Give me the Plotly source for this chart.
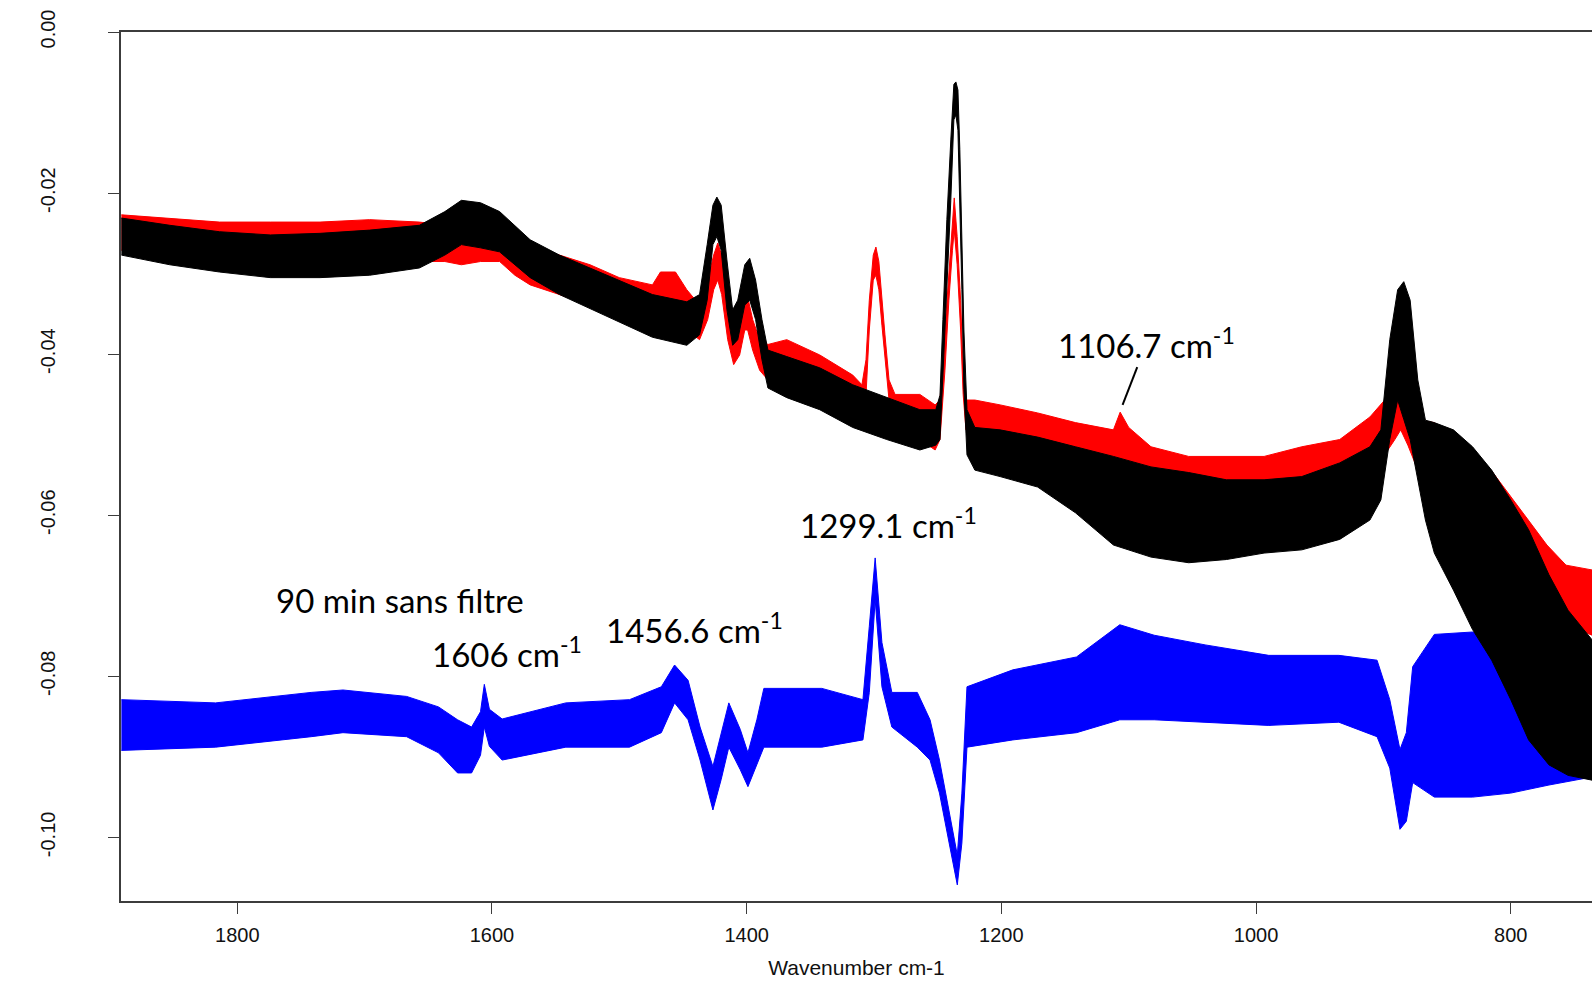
import plotly.graph_objects as go

# ---- spectra: wavenumber (cm-1) with upper / lower envelope of the noisy trace ----
# reference spectrum (red)
red_wn = [1891, 1853, 1814, 1774, 1735, 1696, 1657, 1637, 1624, 1609, 1594, 1582, 1570, 1547,
          1523, 1500, 1474, 1467.7, 1455.9, 1447, 1437, 1430.6, 1425.9, 1422.7, 1419.6, 1414.9,
          1410.2, 1405.5, 1401.5, 1399.2, 1395.3, 1389.8, 1383.3, 1368.5, 1342.6, 1316.7, 1309.5,
          1306.3, 1303.7, 1300.6, 1298.5, 1296.2, 1293.8, 1291.4, 1288.2, 1283.5, 1264, 1252,
          1248.2, 1244.3, 1241.2, 1238.4, 1237, 1234.7, 1232, 1230, 1227.8, 1220.8, 1201, 1171.5,
          1141.8, 1112, 1106.7, 1100, 1082.5, 1052.9, 1023.3, 993.7, 964.1, 934.3, 910.6, 899,
          891, 886.4, 880.8, 873, 860, 845, 815.5, 786, 771.6, 756.6, 736]
red_hi = [-0.0227, -0.0231, -0.0236, -0.0236, -0.0236, -0.0233, -0.0236, -0.0240, -0.0243, -0.0236,
          -0.0236, -0.0256, -0.0268, -0.0277, -0.0289, -0.0305, -0.0314, -0.0298, -0.0298, -0.0320,
          -0.0339, -0.0308, -0.0277, -0.0262, -0.0277, -0.0333, -0.0388, -0.0364, -0.0333, -0.0329,
          -0.0357, -0.0382, -0.0388, -0.0382, -0.0401, -0.0426, -0.0438, -0.0407, -0.0333, -0.0277,
          -0.0267, -0.0285, -0.0333, -0.0376, -0.0432, -0.0450, -0.0450, -0.0463, -0.0457, -0.0370,
          -0.0289, -0.0233, -0.0206, -0.0254, -0.0333, -0.0419, -0.0457, -0.0457, -0.0463, -0.0473,
          -0.0485, -0.0494, -0.0472, -0.0491, -0.0515, -0.0527, -0.0527, -0.0527, -0.0515, -0.0506,
          -0.0478, -0.0457, -0.0438, -0.0427, -0.0444, -0.0482, -0.0485, -0.0506, -0.0544, -0.0606,
          -0.0637, -0.0662, -0.0668]
red_lo = [-0.0271, -0.0277, -0.0285, -0.0289, -0.0289, -0.0285, -0.0285, -0.0285, -0.0289, -0.0285,
          -0.0285, -0.0302, -0.0314, -0.0326, -0.0339, -0.0355, -0.0370, -0.0345, -0.0351, -0.0370,
          -0.0382, -0.0357, -0.0320, -0.0308, -0.0326, -0.0382, -0.0413, -0.0401, -0.0370, -0.0370,
          -0.0395, -0.0420, -0.0432, -0.0438, -0.0457, -0.0482, -0.0488, -0.0451, -0.0370, -0.0308,
          -0.0302, -0.0320, -0.0364, -0.0407, -0.0457, -0.0494, -0.0506, -0.0519, -0.0506, -0.0420,
          -0.0333, -0.0271, -0.0246, -0.0289, -0.0370, -0.0450, -0.0494, -0.0506, -0.0525, -0.0537,
          -0.0556, -0.0575, -0.0575, -0.0581, -0.0593, -0.0606, -0.0606, -0.0600, -0.0593, -0.0581,
          -0.0550, -0.0525, -0.0506, -0.0494, -0.0513, -0.0544, -0.0568, -0.0593, -0.0637, -0.0692,
          -0.0718, -0.0736, -0.0749]

# sample spectrum (black)
black_wn = [1891, 1853, 1814, 1774, 1735, 1696, 1657, 1637, 1624, 1609, 1594, 1582, 1570, 1547,
            1523, 1500, 1474, 1447, 1437, 1431, 1426.5, 1423.4, 1420, 1415.5, 1411, 1407, 1401.5,
            1397.6, 1393, 1388, 1383.3, 1368.5, 1342.6, 1316.7, 1290, 1264, 1251.5, 1248.2,
            1245.9, 1242.8, 1239.7, 1237.3, 1235.7, 1234.1, 1232.6, 1231, 1229.4, 1227, 1220.8,
            1201, 1171.5, 1141.8, 1112, 1082.5, 1052.9, 1023.3, 993.7, 964.1, 934.3, 910.6, 902,
            895, 888.8, 884, 879, 873, 867, 860, 845, 830, 815, 800, 786, 770, 755, 736]
black_hi = [-0.0231, -0.0240, -0.0248, -0.0252, -0.0250, -0.0246, -0.0240, -0.0223, -0.0209, -0.0212,
            -0.0223, -0.0240, -0.0258, -0.0277, -0.0293, -0.0308, -0.0326, -0.0335, -0.0326, -0.0264,
            -0.0215, -0.0205, -0.0215, -0.0283, -0.0345, -0.0333, -0.0289, -0.0281, -0.0308, -0.0357,
            -0.0395, -0.0403, -0.0417, -0.0438, -0.0454, -0.0469, -0.0469, -0.0451, -0.0357, -0.0233,
            -0.0134, -0.0065, -0.0062, -0.0072, -0.0146, -0.0258, -0.0370, -0.0469, -0.0491, -0.0494,
            -0.0503, -0.0515, -0.0527, -0.0540, -0.0547, -0.0556, -0.0556, -0.0552, -0.0535, -0.0515,
            -0.0494, -0.0382, -0.0320, -0.0310, -0.0333, -0.0432, -0.0482, -0.0485, -0.0494, -0.0515,
            -0.0544, -0.0581, -0.0618, -0.0674, -0.0718, -0.0755]
black_lo = [-0.0277, -0.0289, -0.0298, -0.0305, -0.0305, -0.0302, -0.0293, -0.0277, -0.0264, -0.0268,
            -0.0273, -0.0289, -0.0305, -0.0326, -0.0343, -0.0360, -0.0379, -0.0389, -0.0376, -0.0333,
            -0.0264, -0.0254, -0.0271, -0.0345, -0.0389, -0.0382, -0.0339, -0.0333, -0.0357, -0.0407,
            -0.0442, -0.0454, -0.0469, -0.0491, -0.0506, -0.0519, -0.0513, -0.0506, -0.0444, -0.0320,
            -0.0209, -0.0109, -0.0103, -0.0122, -0.0209, -0.0320, -0.0444, -0.0525, -0.0544, -0.0552,
            -0.0565, -0.0597, -0.0637, -0.0652, -0.0659, -0.0655, -0.0647, -0.0643, -0.0630, -0.0606,
            -0.0581, -0.0506, -0.0457, -0.0481, -0.0506, -0.0556, -0.0606, -0.0647, -0.0693, -0.0742,
            -0.0780, -0.0829, -0.0879, -0.0910, -0.0923, -0.0929]

# difference spectrum, 90 min without filter (blue)
blue_wn = [1891, 1817, 1742, 1717, 1667, 1642, 1627, 1616, 1609, 1606, 1602, 1592, 1542, 1492,
           1467, 1456.6, 1446, 1436.6, 1426.5, 1420, 1414, 1405, 1399, 1392, 1386.5, 1341, 1308.7,
           1303.7, 1299.1, 1293.8, 1286, 1266, 1256, 1248.6, 1241, 1234.6, 1231, 1227, 1191, 1141,
           1107, 1080, 1040, 990, 935, 905, 895, 887, 882, 877, 860, 830, 800, 770, 736]
blue_hi = [-0.0829, -0.0833, -0.0820, -0.0817, -0.0825, -0.0838, -0.0854, -0.0863, -0.0844, -0.0810,
           -0.0841, -0.0853, -0.0833, -0.0829, -0.0813, -0.0786, -0.0805, -0.0863, -0.0912, -0.0872,
           -0.0833, -0.0866, -0.0895, -0.0854, -0.0815, -0.0815, -0.0829, -0.0738, -0.0653, -0.0758,
           -0.0820, -0.0820, -0.0854, -0.0904, -0.0966, -0.1022, -0.0945, -0.0813, -0.0792, -0.0776,
           -0.0736, -0.0749, -0.0761, -0.0774, -0.0774, -0.0780, -0.0829, -0.0891, -0.0870, -0.0788,
           -0.0748, -0.0745, -0.0770, -0.0790, -0.0800]
blue_lo = [-0.0892, -0.0888, -0.0875, -0.0870, -0.0875, -0.0895, -0.0920, -0.0920, -0.0898, -0.0863,
           -0.0887, -0.0904, -0.0888, -0.0888, -0.0870, -0.0833, -0.0854, -0.0904, -0.0966, -0.0928,
           -0.0888, -0.0916, -0.0937, -0.0910, -0.0888, -0.0888, -0.0879, -0.0820, -0.0705, -0.0813,
           -0.0863, -0.0888, -0.0904, -0.0945, -0.1007, -0.1059, -0.1007, -0.0888, -0.0879, -0.0870,
           -0.0854, -0.0854, -0.0857, -0.0861, -0.0857, -0.0875, -0.0914, -0.0990, -0.0980, -0.0932,
           -0.0950, -0.0950, -0.0945, -0.0935, -0.0925]

# ---- axis ticks ----
x_ticks = [1800, 1600, 1400, 1200, 1000, 800]
y_ticks = [0.0, -0.02, -0.04, -0.06, -0.08, -0.10]
y_tick_text = ["0.00", "-0.02", "-0.04", "-0.06", "-0.08", "-0.10"]

# ---- band labels: (peak wavenumber, label centre x, label centre y) ----
labelled_peaks = [(1106.7, 1085.7, -0.0386), (1299.1, 1288.3, -0.0610),
                  (1456.6, 1440.6, -0.0740), (1606, 1588.5, -0.0770)]
caption = "90 min sans filtre"
caption_pos = (1672.6, -0.0705)
# leader line from the 1106.7 label towards its band
leader = dict(x0=1093.3, y0=-0.0416, x1=1104.8, y1=-0.0463)

FONT_AXIS = "Liberation Sans, Arial, sans-serif"
FONT_TEXT = "Lato, Open Sans, sans-serif"


def band(wn, hi, lo, color):
    """Closed polygon between the upper and lower envelope of a noisy trace."""
    return go.Scatter(
        x=list(wn) + list(wn)[::-1],
        y=list(hi) + list(lo)[::-1],
        mode="lines",
        fill="toself",
        fillcolor=color,
        line=dict(color=color, width=1),
        hoverinfo="skip",
        showlegend=False,
    )


fig = go.Figure()
fig.add_trace(band(blue_wn, blue_hi, blue_lo, "#0000ff"))
fig.add_trace(band(red_wn, red_hi, red_lo, "#ff0000"))
fig.add_trace(band(black_wn, black_hi, black_lo, "#000000"))

for wn, lx, ly in labelled_peaks:
    fig.add_annotation(x=lx, y=ly, text=f"{wn:g} cm<sup>-1</sup>", showarrow=False,
                       xanchor="center", yanchor="middle",
                       font=dict(family=FONT_TEXT, size=33, color="black"))

fig.add_annotation(x=caption_pos[0], y=caption_pos[1], text=caption, showarrow=False,
                   xanchor="center", yanchor="middle",
                   font=dict(family=FONT_TEXT, size=33, color="black"))

fig.add_shape(type="line", xref="x", yref="y", line=dict(color="black", width=2), **leader)

axis_line = "#3c3c3c"
fig.update_xaxes(
    range=[1891.3, 736.2], tickvals=x_ticks, ticks="outside", ticklen=11,
    tickcolor=axis_line, tickwidth=1.2, showline=True, linecolor=axis_line, linewidth=1.5,
    mirror=True, showgrid=False, zeroline=False, ticklabelstandoff=4,
    tickfont=dict(family=FONT_AXIS, size=20, color="#111"),
    title=dict(text="Wavenumber cm-1", font=dict(family=FONT_AXIS, size=21, color="#111"),
               standoff=16),
)
fig.update_yaxes(
    range=[-0.1079, 0.0], tickvals=y_ticks, ticktext=y_tick_text, ticks="outside", ticklen=11,
    tickcolor=axis_line, tickwidth=1.2, showline=True, linecolor=axis_line, linewidth=1.5,
    showgrid=False, zeroline=False, tickangle=-90, ticklabelstandoff=45,
    tickfont=dict(family=FONT_AXIS, size=20, color="#111"),
)
fig.update_layout(
    width=1592, height=982,
    margin=dict(l=121, r=0, t=32, b=81),
    paper_bgcolor="white", plot_bgcolor="white",
    showlegend=False,
)

fig.write_html("out.html")
